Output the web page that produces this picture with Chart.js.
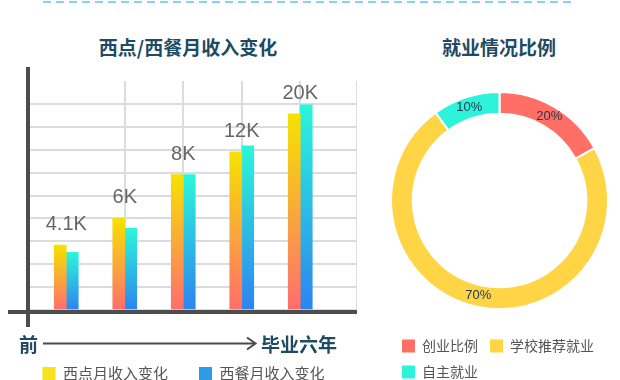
<!DOCTYPE html>
<html>
<head>
<meta charset="utf-8">
<script src="https://cdn.jsdelivr.net/npm/chart.js@4.4.1/dist/chart.umd.min.js"></script>
<style>
  html, body { margin: 0; padding: 0; width: 620px; height: 380px; overflow: hidden; background: #fff;
               font-family: 'Noto Sans CJK SC', sans-serif; }
  .abs { position: absolute; }
  .title { font-size: 19px; line-height: 19px; font-weight: bold; color: #1f4a63; text-align: center; white-space: nowrap; }
  .stage { font-size: 19px; line-height: 19px; font-weight: bold; color: #1f4a63; white-space: nowrap; }
</style>
</head>
<body>
<svg class="abs" style="left:0;top:0" width="620" height="6">
  <line x1="43" y1="2" x2="574" y2="2" stroke="#8dd0f5" stroke-width="2" stroke-dasharray="8 5"/>
</svg>

<div class="abs title" style="left:0;top:37px;width:376px">西点/西餐月收入变化</div>
<div class="abs title" style="left:399px;top:37px;width:200px">就业情况比例</div>

<canvas id="incomeChart" class="abs" style="left:0;top:60px" width="357" height="331"></canvas>
<canvas id="jobChart" class="abs" style="left:389.5px;top:73.5px" width="219" height="315"></canvas>

<div class="abs stage" style="left:19px;top:334px">前</div>
<svg class="abs" style="left:0;top:330px" width="270" height="30">
  <line x1="43" y1="13.5" x2="255" y2="13.5" stroke="#4a4a4a" stroke-width="2"/>
  <polyline points="247,7.5 255.5,13.5 247,19.5" fill="none" stroke="#4a4a4a" stroke-width="2"/>
</svg>
<div class="abs stage" style="left:261px;top:334px">毕业六年</div>

<script>
// 收入变化（柱高按图中刻度读取，0-10 格）
const stages        = ['前', '第二年', '第三年', '第四年', '毕业六年'];
const valueLabels   = ['4.1K', '6K', '8K', '12K', '20K'];
const pastryIncome  = [2.83, 4.0, 5.91, 6.91, 8.57];
const westernIncome = [2.52, 3.57, 5.91, 7.17, 8.96];
const seriesNames   = ['西点月收入变化', '西餐月收入变化'];

// 就业比例
const jobLabels   = ['创业比例', '学校推荐就业', '自主就业'];
const jobShares   = [17, 73, 10];
const shareLabels = ['20%', '70%', '10%'];

Chart.defaults.font.family = "'Noto Sans CJK SC', sans-serif";
Chart.defaults.animation = false;

const GRID = '#dcdcdc';
const AXIS = '#4d4d4d';

function gradientFill(stops) {
    return ctx => {
        const y = ctx.chart.scales.y;
        if (!ctx.parsed || !y) return stops[0][1];
        const top = y.getPixelForValue(ctx.parsed.y);
        const bottom = y.getPixelForValue(0);
        if (!isFinite(top) || !isFinite(bottom) || top === bottom) return stops[0][1];
        const g = ctx.chart.ctx.createLinearGradient(0, top, 0, bottom);
        stops.forEach(([p, c]) => g.addColorStop(p, c));
        return g;
    };
}

const axisLines = {
    id: 'axisLines',
    afterDatasetsDraw(chart) {
        const { ctx, chartArea: a } = chart;
        ctx.save();
        ctx.strokeStyle = AXIS;
        ctx.lineWidth = 4;
        ctx.beginPath();
        ctx.moveTo(a.left - 2, a.top - 14);
        ctx.lineTo(a.left - 2, a.bottom + 17);
        ctx.moveTo(a.left - 22, a.bottom + 2);
        ctx.lineTo(a.right + 1, a.bottom + 2);
        ctx.stroke();
        ctx.restore();
    }
};

const valueText = {
    id: 'valueText',
    afterDatasetsDraw(chart) {
        const { ctx } = chart;
        const bars = chart.getDatasetMeta(0).data;
        ctx.save();
        ctx.font = "20px 'Liberation Sans', Arial, sans-serif";
        ctx.fillStyle = '#666';
        ctx.textAlign = 'center';
        ctx.textBaseline = 'alphabetic';
        bars.forEach((bar, i) => {
            ctx.fillText(valueLabels[i], chart.scales.x.getPixelForValue(i), bar.y - 15);
        });
        ctx.restore();
    }
};

const legendColors = ['#f8e21e', '#2e9be6'];

new Chart(document.getElementById('incomeChart'), {
    type: 'bar',
    data: {
        datasets: [
            {
                label: seriesNames[0],
                data: pastryIncome.map((v, i) => ({ x: i, y: v })),
                backgroundColor: gradientFill([[0, '#f6e200'], [0.5, '#f9a93a'], [1, '#ff6d6d']])
            },
            {
                label: seriesNames[1],
                data: westernIncome.map((v, i) => ({ x: i, y: v })),
                backgroundColor: gradientFill([[0, '#2cf6da'], [1, '#2e83f0']])
            }
        ]
    },
    options: {
        responsive: false,
        barThickness: 12,
        layout: { padding: { left: 10, right: 0, top: 21, bottom: 0 } },
        plugins: {
            tooltip: { enabled: false },
            legend: {
                position: 'bottom',
                labels: {
                    boxWidth: 13, boxHeight: 13, padding: 31, color: '#555',
                    font: { size: 15 },
                    generateLabels: chart => Chart.defaults.plugins.legend.labels.generateLabels(chart)
                        .map((l, i) => ({ ...l, fillStyle: legendColors[i], strokeStyle: legendColors[i], lineWidth: 0 }))
                }
            }
        },
        scales: {
            x: {
                type: 'linear', min: -0.62, max: 4.97, offset: false,
                ticks: { display: false, stepSize: 1 },
                afterBuildTicks: s => { s.ticks = s.ticks.filter(t => t.value >= 0 && t.value < stages.length); },
                afterFit: s => { s.height = 25; },
                grid: { offset: false, drawTicks: false, color: GRID, lineWidth: 2 },
                border: { display: false }
            },
            y: {
                min: 0, max: 10,
                ticks: { display: false, stepSize: 1 },
                afterFit: s => { s.width = 20; },
                grid: { drawTicks: false, lineWidth: 2, color: c => (c.tick && c.tick.value === 10) ? 'rgba(0,0,0,0)' : GRID },
                border: { display: false }
            }
        }
    },
    plugins: [axisLines, valueText]
});

const ringText = {
    id: 'ringText',
    afterDatasetsDraw(chart) {
        const { ctx } = chart;
        ctx.save();
        ctx.font = "13px 'Liberation Sans', Arial, sans-serif";
        ctx.fillStyle = '#263a4d';
        ctx.textAlign = 'center';
        ctx.textBaseline = 'middle';
        chart.getDatasetMeta(0).data.forEach((arc, i) => {
            const p = arc.getProps(['x', 'y', 'startAngle', 'endAngle', 'innerRadius', 'outerRadius']);
            const mid = (p.startAngle + p.endAngle) / 2;
            const r = (p.innerRadius + p.outerRadius) / 2;
            ctx.fillText(shareLabels[i], p.x + Math.cos(mid) * r, p.y + Math.sin(mid) * r);
        });
        ctx.restore();
    }
};

new Chart(document.getElementById('jobChart'), {
    type: 'doughnut',
    data: {
        labels: jobLabels,
        datasets: [{
            data: jobShares,
            backgroundColor: ['#ff6f66', '#ffd546', '#2df3da'],
            borderColor: '#fff',
            borderWidth: 2,
            hoverOffset: 0
        }]
    },
    options: {
        responsive: false,
        cutout: '80%',
        layout: { padding: 0 },
        plugins: {
            tooltip: { enabled: false },
            legend: {
                position: 'bottom',
                align: 'start',
                labels: {
                    boxWidth: 13, boxHeight: 13, padding: 12, color: '#555',
                    font: { size: 14 },
                    generateLabels: chart => Chart.overrides.doughnut.plugins.legend.labels.generateLabels(chart)
                        .map(l => ({ ...l, lineWidth: 0 }))
                }
            }
        }
    },
    plugins: [ringText]
});
</script>
</body>
</html>
